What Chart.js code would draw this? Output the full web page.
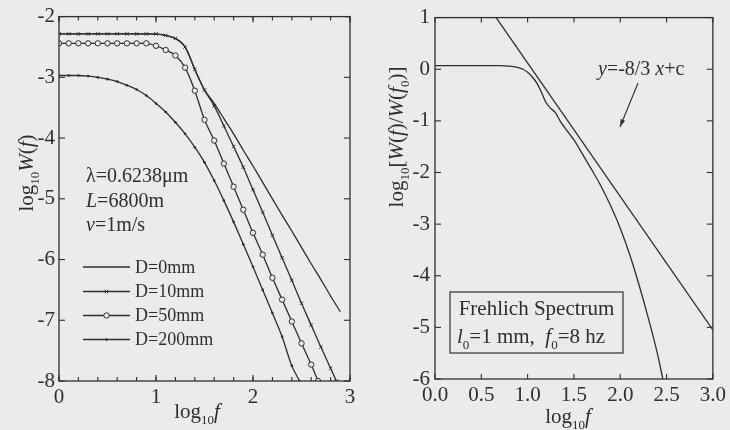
<!DOCTYPE html>
<html><head><meta charset="utf-8">
<script src="https://cdn.jsdelivr.net/npm/chart.js@4.4.1/dist/chart.umd.min.js"></script>
<style>
html,body{margin:0;padding:0;background:#ebebeb;width:730px;height:430px;overflow:hidden}
canvas{position:absolute;top:0}
#c1{left:0}
#c2{left:365px}
</style></head><body>
<canvas id="c1" width="365" height="430"></canvas>
<canvas id="c2" width="365" height="430"></canvas>
<script>
// ---------- data ----------
const d0X  = [0,0.2,0.4,0.6,0.8,1.0,1.1,1.2,1.25,1.3,1.35,1.4,1.45,1.5,1.55,1.6,1.7,1.8,1.9,2.0,2.1,2.2,2.3,2.4,2.5,2.6,2.7,2.8,2.9];
const d0Y  = [-2.285,-2.285,-2.285,-2.285,-2.285,-2.29,-2.31,-2.36,-2.41,-2.50,-2.67,-2.87,-3.05,-3.21,-3.32,-3.43,-3.68,-3.93,-4.20,-4.46,-4.73,-5.00,-5.27,-5.53,-5.80,-6.07,-6.33,-6.60,-6.86];
const d10X = [0,0.1,0.2,0.3,0.4,0.5,0.6,0.7,0.8,0.9,1.0,1.1,1.2,1.3,1.4,1.5,1.6,1.7,1.8,1.9,2.0,2.1,2.2,2.3,2.4,2.5,2.6,2.7,2.8,2.86];
const d10Y = [-2.285,-2.285,-2.285,-2.285,-2.285,-2.285,-2.285,-2.285,-2.285,-2.285,-2.285,-2.31,-2.36,-2.50,-2.87,-3.21,-3.47,-3.80,-4.14,-4.48,-4.85,-5.22,-5.60,-5.97,-6.34,-6.72,-7.08,-7.44,-7.79,-8.0];
const d50X = [0,0.1,0.2,0.3,0.4,0.5,0.6,0.7,0.8,0.9,1.0,1.1,1.2,1.3,1.4,1.5,1.6,1.7,1.8,1.9,2.0,2.1,2.2,2.3,2.4,2.5,2.6,2.67];
const d50Y = [-2.44,-2.44,-2.44,-2.44,-2.44,-2.44,-2.44,-2.44,-2.44,-2.44,-2.48,-2.55,-2.64,-2.84,-3.22,-3.70,-4.04,-4.42,-4.80,-5.18,-5.56,-5.92,-6.30,-6.66,-7.02,-7.38,-7.73,-8.0];
const d200X = [0,0.1,0.2,0.3,0.4,0.5,0.6,0.7,0.8,0.9,1.0,1.1,1.2,1.3,1.4,1.5,1.6,1.7,1.8,1.9,2.0,2.1,2.2,2.3,2.4,2.48];
const d200Y = [-2.97,-2.97,-2.97,-2.98,-3.00,-3.03,-3.07,-3.13,-3.20,-3.30,-3.43,-3.57,-3.74,-3.93,-4.15,-4.40,-4.70,-5.03,-5.38,-5.75,-6.12,-6.50,-6.88,-7.27,-7.75,-8.0];
const seriesNames = ['D=0mm','D=10mm','D=50mm','D=200mm'];

const frX = [0,0.2,0.4,0.6,0.7,0.8,0.85,0.9,0.95,1.0,1.05,1.1,1.15,1.2,1.25,1.3,1.35,1.4,1.45,1.5,1.6,1.7,1.8,1.9,2.0,2.1,2.2,2.3,2.4,2.46];
const frY = [0.07,0.07,0.07,0.07,0.07,0.06,0.05,0.03,0.0,-0.06,-0.15,-0.27,-0.45,-0.65,-0.76,-0.84,-1.0,-1.13,-1.25,-1.37,-1.67,-1.97,-2.29,-2.66,-3.08,-3.58,-4.16,-4.80,-5.50,-6.0];
const slopeX = [0.66, 3.0];
const slopeY = [1.0, -5.05];

const leftXTicks = [0,1,2,3];
const leftXLabels = ['0','1','2','3'];
const leftYTicks = [-8,-7,-6,-5,-4,-3,-2];
const leftYLabels = ['-8','-7','-6','-5','-4','-3','-2'];
const rightXTicks = [0,0.5,1,1.5,2,2.5,3];
const rightXLabels = ['0.0','0.5','1.0','1.5','2.0','2.5','3.0'];
const rightYTicks = [-6,-5,-4,-3,-2,-1,0,1];
const rightYLabels = ['-6','-5','-4','-3','-2','-1','0','1'];

// ---------- helpers ----------
const INK = '#2e2e2e';
const BG = '#ebebeb';
const SERIF = "'Liberation Serif','Times New Roman',serif";
const pts = (xs, ys) => xs.map((x, i) => ({x, y: ys[i]}));

function fontFor(style, size){
  const sub = style.includes('s');
  const sz = sub ? Math.round(size*0.62) : size;
  return (style.includes('i') ? 'italic ' : '') + sz + 'px ' + SERIF;
}
function rich(ctx, parts, x, y, size, align){
  const m = []; let w = 0;
  for (const [t, st = ''] of parts){
    const f = fontFor(st, size); ctx.font = f;
    const pw = ctx.measureText(t).width; m.push([t, st, f, pw]); w += pw;
  }
  let cx = align === 'center' ? x - w/2 : align === 'right' ? x - w : x;
  for (const [t, st, f, pw] of m){
    ctx.font = f;
    ctx.fillText(t, cx, y + (st.includes('s') ? size*0.28 : 0));
    cx += pw;
  }
}
function tickVals(min, max, step){
  const out = []; const n = Math.round((max-min)/step);
  for (let i=0;i<=n;i++) out.push(+(min + i*step).toFixed(6));
  return out;
}

const framePlugin = {
  id: 'frame',
  afterDatasetsDraw(chart, args, o){
    const {ctx, chartArea: a, scales: {x, y}} = chart;
    ctx.save();
    ctx.strokeStyle = INK; ctx.lineWidth = 1.3;
    ctx.strokeRect(a.left, a.top, a.right - a.left, a.bottom - a.top);
    ctx.lineWidth = 1.1;
    const ln = (x1,y1,x2,y2) => { ctx.beginPath(); ctx.moveTo(x1,y1); ctx.lineTo(x2,y2); ctx.stroke(); };
    for (const [vals, len] of o.xt){
      for (const v of vals){ const p = x.getPixelForValue(v); ln(p,a.bottom,p,a.bottom-len); ln(p,a.top,p,a.top+len); }
    }
    for (const [vals, len] of o.yt){
      for (const v of vals){ const p = y.getPixelForValue(v); ln(a.left,p,a.left+len,p); ln(a.right,p,a.right-len,p); }
    }
    ctx.fillStyle = INK; ctx.strokeStyle = INK;
    ctx.textBaseline = 'alphabetic';
    o.draw(chart, ctx);
    ctx.restore();
  }
};

function baseOptions(c){
  const fontT = {family: SERIF, size: 21};
  return {
    responsive: false, animation: false, devicePixelRatio: 1,
    layout: {padding: {left: 0, right: c.padR, top: c.padT, bottom: 0}},
    plugins: {legend: {display: false}, tooltip: {enabled: false}, frame: c.frame},
    elements: {line: {borderWidth: 1.3, borderColor: INK, cubicInterpolationMode: 'monotone'}},
    scales: {
      x: {
        type: 'linear', min: c.xmin, max: c.xmax,
        afterFit(s){ s.height = c.xH; },
        afterBuildTicks(s){ s.ticks = c.xTicks.map(v => ({value: v})); },
        grid: {display: false, drawTicks: false}, border: {display: false},
        ticks: {autoSkip: false, maxRotation: 0, color: INK, font: fontT, padding: c.xPad,
                callback: (v) => c.xLabels[c.xTicks.findIndex(t => Math.abs(t - v) < 1e-6)]}
      },
      y: {
        type: 'linear', min: c.ymin, max: c.ymax,
        afterFit(s){ s.width = c.yW; },
        afterBuildTicks(s){ s.ticks = c.yTicks.map(v => ({value: v})); },
        grid: {display: false, drawTicks: false}, border: {display: false},
        ticks: {autoSkip: false, color: INK, font: fontT, padding: c.yPad,
                callback: (v) => c.yLabels[c.yTicks.findIndex(t => Math.abs(t - v) < 1e-6)]}
      }
    }
  };
}

// ---------- left chart ----------
const leftDatasets = [
  {label: seriesNames[0], data: pts(d0X, d0Y), pointRadius: 0},
  {label: seriesNames[1], data: pts(d10X, d10Y), pointStyle: 'crossRot', pointRadius: 2.4, pointBorderWidth: 1, pointBorderColor: INK},
  {label: seriesNames[2], data: pts(d50X, d50Y), pointStyle: 'circle', pointRadius: 2.7, pointBorderWidth: 1, pointBorderColor: INK, pointBackgroundColor: BG},
  {label: seriesNames[3], data: pts(d200X, d200Y), pointStyle: 'circle', pointRadius: 1.3, pointBorderWidth: 0, pointBackgroundColor: INK}
];
leftDatasets.forEach(d => { d.borderColor = INK; d.borderWidth = 1.3; d.fill = false; });

new Chart(document.getElementById('c1'), {
  type: 'line',
  data: {datasets: leftDatasets},
  plugins: [framePlugin],
  options: baseOptions({
    padR: 15, padT: 16, xH: 49, yW: 59, xPad: 4, yPad: 4,
    xmin: 0, xmax: 3, ymin: -8, ymax: -2,
    xTicks: leftXTicks, xLabels: leftXLabels, yTicks: leftYTicks, yLabels: leftYLabels,
    frame: {
      xt: [[tickVals(0,3,0.2), 4], [leftXTicks, 6]],
      yt: [[leftYTicks, 6]],
      draw(chart, ctx){
        // axis titles
        rich(ctx, [['log'], ['10','s'], ['f','i']], 197, 418, 21, 'center');
        ctx.save(); ctx.translate(33, 173); ctx.rotate(-Math.PI/2);
        rich(ctx, [['log'], ['10','s'], ['W','i'], ['('], ['f','i'], [')']], 0, 0, 21, 'center');
        ctx.restore();
        // parameters
        rich(ctx, [['λ=0.6238μm']], 86, 182, 20, 'left');
        rich(ctx, [['L','i'], ['=6800m']], 86, 207, 20, 'left');
        rich(ctx, [['v','i'], ['=1m/s']], 86, 231, 20, 'left');
        // legend
        const rows = [267, 291.5, 315.5, 339.5];
        chart.data.datasets.forEach((d, i) => {
          const y = rows[i];
          ctx.lineWidth = 1.3; ctx.strokeStyle = INK;
          ctx.beginPath(); ctx.moveTo(83, y); ctx.lineTo(130, y); ctx.stroke();
          if (d.pointRadius){
            ctx.fillStyle = d.pointBackgroundColor || INK; ctx.strokeStyle = INK;
            ctx.lineWidth = d.pointBorderWidth || 0.01;
            Chart.helpers.drawPoint(ctx, {pointStyle: d.pointStyle, radius: d.pointRadius, borderWidth: d.pointBorderWidth, rotation: 0}, 106.5, y);
          }
          ctx.fillStyle = INK; ctx.font = '18px ' + SERIF; ctx.textBaseline = 'middle';
          ctx.fillText(d.label, 135, y + 1);
          ctx.textBaseline = 'alphabetic';
        });
      }
    }
  })
});

// ---------- right chart ----------
new Chart(document.getElementById('c2'), {
  type: 'line',
  data: {datasets: [
    {label: 'Frehlich', data: pts(frX, frY), pointRadius: 0, borderColor: INK, borderWidth: 1.3, fill: false},
    {label: 'slope', data: pts(slopeX, slopeY), pointRadius: 0, borderColor: INK, borderWidth: 1.3, fill: false, cubicInterpolationMode: 'default', tension: 0}
  ]},
  plugins: [framePlugin],
  options: baseOptions({
    padR: 15, padT: 14, xH: 51, yW: 70, xPad: 4, yPad: 5,
    xmin: 0, xmax: 3, ymin: -6, ymax: 1,
    xTicks: rightXTicks, xLabels: rightXLabels, yTicks: rightYTicks, yLabels: rightYLabels,
    frame: {
      xt: [[rightXTicks, 5]],
      yt: [[rightYTicks, 6]],
      draw(chart, ctx){
        rich(ctx, [['log'], ['10','s'], ['f','i']], 203, 423, 21, 'center');
        ctx.save(); ctx.translate(38, 137); ctx.rotate(-Math.PI/2);
        rich(ctx, [['log'], ['10','s'], ['['], ['W','i'], ['('], ['f','i'], [')/'], ['W','i'], ['('], ['f','i'], ['0','s'], [')]']], 0, 0, 21, 'center');
        ctx.restore();
        // slope label + arrow
        rich(ctx, [['y','i'], ['=-8/3 '], ['x','i'], ['+c']], 233, 75, 20, 'left');
        ctx.lineWidth = 1.1;
        const x1 = 273, y1 = 83, x2 = 255, y2 = 127;
        ctx.beginPath(); ctx.moveTo(x1, y1); ctx.lineTo(x2, y2); ctx.stroke();
        const ang = Math.atan2(y2 - y1, x2 - x1);
        ctx.beginPath(); ctx.moveTo(x2, y2);
        ctx.lineTo(x2 - 8*Math.cos(ang - 0.3), y2 - 8*Math.sin(ang - 0.3));
        ctx.lineTo(x2 - 8*Math.cos(ang + 0.3), y2 - 8*Math.sin(ang + 0.3));
        ctx.closePath(); ctx.fill();
        // box
        ctx.fillStyle = BG; ctx.fillRect(85, 292, 173, 61);
        ctx.fillStyle = INK; ctx.lineWidth = 1.2;
        ctx.strokeRect(85, 292, 173, 61);
        rich(ctx, [['Frehlich Spectrum']], 171.5, 315, 21, 'center');
        rich(ctx, [['l','i'], ['0','s'], ['=1 mm,  '], ['f','i'], ['0','s'], ['=8 hz']], 92, 343, 21, 'left');
      }
    }
  })
});
</script>
</body></html>
